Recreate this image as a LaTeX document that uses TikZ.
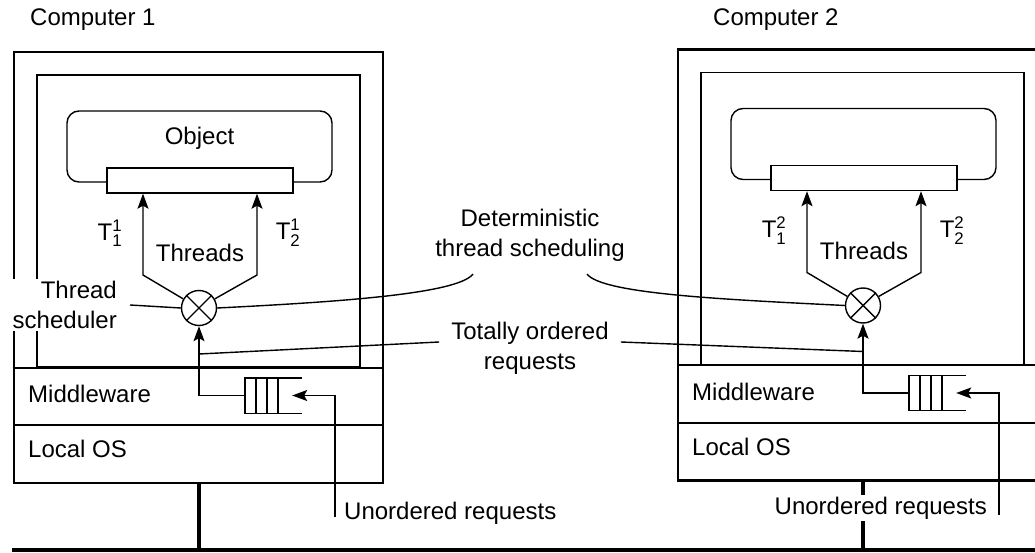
\documentclass[tikz,border=0pt]{standalone}
\usepackage{fontspec}
\setmainfont{Liberation Sans}
\usepackage{amsmath}
\usetikzlibrary{arrows.meta, positioning, calc}
\tikzstyle{pcbox}  = [rectangle, draw=black, line width=2.8pt, minimum width=369pt,
                      minimum height=431pt, inner sep=0pt]
\tikzstyle{shell}  = [rectangle, draw=black, line width=1.3pt, minimum width=323pt,
                      minimum height=292pt, inner sep=0pt]
\tikzstyle{object} = [rectangle, rounded corners=12pt, draw=black, line width=1.4pt,
                      minimum width=265pt, minimum height=71pt, inner sep=0pt]
\tikzstyle{iface}  = [rectangle, draw=black, fill=white, line width=1.4pt,
                      minimum width=186pt, minimum height=25pt, inner sep=0pt]
\tikzstyle{sched}  = [circle, draw=black, line width=1.4pt, minimum size=35pt, inner sep=0pt]
\tikzstyle{queue}  = [rectangle, minimum width=57pt, minimum height=35pt, inner sep=0pt]
\tikzstyle{arrow}  = [-{Stealth[length=15pt, width=11pt, inset=3pt]}, line width=1.4pt]
\tikzstyle{layer}  = [line width=2pt]
\tikzstyle{wire}   = [line width=1.4pt]
\tikzstyle{net}    = [line width=4pt]
\tikzstyle{txt}    = [font=\fontsize{24}{30}\selectfont, inner sep=2pt]

\begin{document}
\begin{tikzpicture}[x=1pt, y=-1pt]
  \useasboundingbox (0,0) rectangle (1035,553);
  \clip (0,0) rectangle (1035,553);

  % Network
  \coordinate (netL) at (12,550);
  \coordinate (netR) at (1040,550);
  \draw [net] (netL) -- (netR);

  \foreach \c/\dx/\dy in {1/0/0, 2/664/-2.5} {
    \begin{scope}[shift={(\dx,\dy)}]
      \node (pc\c) [pcbox] at (198.5,267.5) {};
      \node (sh\c) [shell] at (198.5,221) {};
      \draw [layer] (pc\c.west |- sh\c.south) -- (pc\c.east |- sh\c.south);
      \draw [layer] (14,425) -- (383,425);
      \node (mw\c)  [txt, anchor=west] at (26,394) {Middleware};
      \node (los\c) [txt, anchor=west] at (26,449) {Local OS};

      \node (obj\c) [object] at (199.5,146.5) {};
      \node (bar\c) [iface] at (200,180.5) {};

      % Scheduler and threads
      \node (sch\c) [sched] at (199,308) {};
      \draw [wire] (sch\c.north east) -- (sch\c.south west)
                   (sch\c.north west) -- (sch\c.south east);
      \coordinate (tl\c) at (143,275);
      \coordinate (tr\c) at (257,275);
      \draw [arrow] (sch\c.150) -- (tl\c) -- (tl\c |- bar\c.south);
      \draw [arrow] (sch\c.30) -- (tr\c) -- (tr\c |- bar\c.south);
      \node (thr\c) [txt] at (200,253) {Threads};
      \node (ta\c)  [txt] at (110,233) {T$^{\text{\c}}_{\text{1}}$};
      \node (tb\c)  [txt] at (288,233) {T$^{\text{\c}}_{\text{2}}$};

      % Request queue
      \node (q\c) [queue] at (273.5,395.5) {};
      \draw [wire] (q\c.north east) -- (q\c.north west) -- (q\c.south west) -- (q\c.south east);
      \foreach \k in {11,22,33}
        \draw [wire] ([xshift=\k pt]q\c.north west) -- ([xshift=\k pt]q\c.south west);
      \draw [arrow] (q\c.west) -| (sch\c.south);
      \coordinate (src\c) at (335,517);
      \draw [arrow] (src\c) |- ([xshift=-10pt]q\c.east);
      \coordinate (ord\c) at (199,354);

      \draw [net] (pc\c.south) -- (pc\c.south |- netL);
    \end{scope}
  }

  \node (objname) [txt] at ([yshift=8pt]obj1.center) {Object};
  \node (cp1) [txt, anchor=west] at (28,20) {Computer 1};
  \node (cp2) [txt, anchor=west] at (711,20) {Computer 2};

  % Annotations
  \node (tsl) [txt, fill=white, align=right, anchor=east] at (119,305) {Thread\\scheduler};
  \draw [wire] ([xshift=11pt]tsl.east) -- (sch1.west);

  \coordinate (detl) at (473,274);
  \coordinate (detr) at (587,274);
  \node (det) [txt, align=center] at (530,235) {Deterministic\\thread scheduling};
  \draw [wire] (detl) .. controls +(-15,20) and +(120,-6) .. (sch1.east);
  \draw [wire] (detr) .. controls +(15,20) and +(-120,-6) .. (sch2.west);

  \node (tot) [txt, align=center, inner xsep=12pt] at (530,348) {Totally ordered\\requests};
  \draw [wire] ([yshift=6pt]tot.west) -- (ord1);
  \draw [wire] ([yshift=6pt]tot.east) -- (ord2);

  \node (ur1) [txt, anchor=west] at (342,513) {Unordered requests};
  \node (ur2) [txt, anchor=east, fill=white] at (989,508) {Unordered requests};
\end{tikzpicture}
\end{document}
